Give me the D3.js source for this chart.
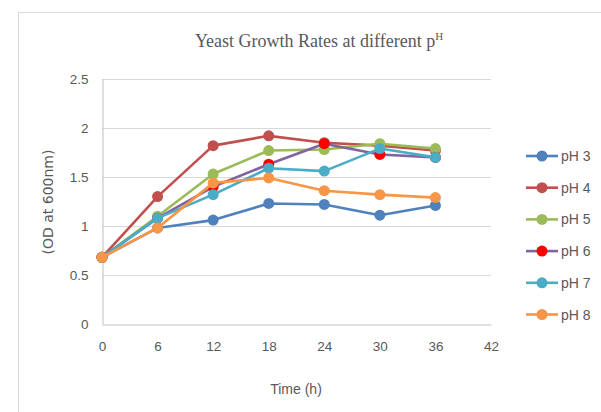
<!DOCTYPE html>
<html>
<head>
<meta charset="utf-8">
<script src="https://cdn.jsdelivr.net/npm/d3@7"></script>
<style>
  html, body { margin: 0; padding: 0; background: #fff; }
  svg { display: block; }
</style>
</head>
<body>
<svg id="chart" width="601" height="412"></svg>
<script>
// Sampling times (hours) and optical density readings per pH
const hours = [0, 6, 12, 18, 24, 30, 36];
const seriesNames = ["pH 3", "pH 4", "pH 5", "pH 6", "pH 7", "pH 8"];
const pH3 = [0.68, 0.98, 1.06, 1.23, 1.22, 1.11, 1.21];
const pH4 = [0.68, 1.30, 1.82, 1.92, 1.85, 1.82, 1.77];
const pH5 = [0.68, 1.10, 1.53, 1.77, 1.78, 1.84, 1.79];
const pH6 = [0.68, 1.08, 1.40, 1.63, 1.84, 1.73, 1.70];
const pH7 = [0.68, 1.08, 1.32, 1.59, 1.56, 1.79, 1.70];
const pH8 = [0.68, 0.98, 1.44, 1.49, 1.36, 1.32, 1.29];
const xTicks = [0, 6, 12, 18, 24, 30, 36, 42];
const yTicks = [0, 0.5, 1, 1.5, 2, 2.5];

const lineColors = ["#4F81BD", "#C0504D", "#9BBB59", "#8064A2", "#4BACC6", "#F79646"];
const markerColors = ["#4F81BD", "#C0504D", "#9BBB59", "#FF0000", "#4BACC6", "#F79646"];
const values = [pH3, pH4, pH5, pH6, pH7, pH8];

const svg = d3.select("#chart");

// Chart border
svg.append("rect")
  .attr("x", 18.5).attr("y", 12.5)
  .attr("width", 640).attr("height", 440)
  .attr("fill", "#fff").attr("stroke", "#d9d9d9").attr("stroke-width", 1);

const x = d3.scaleLinear().domain([0, 42]).range([102, 491]);
const y = d3.scaleLinear().domain([0, 2.5]).range([324, 79]);

// Horizontal gridlines
svg.append("g").selectAll("line")
  .data(yTicks.filter(d => d > 0))
  .join("line")
  .attr("x1", x(0)).attr("x2", x(42))
  .attr("y1", d => Math.round(y(d)) + 0.5).attr("y2", d => Math.round(y(d)) + 0.5)
  .attr("stroke", "#d9d9d9").attr("stroke-width", 1);

// Axes
const xAxis = svg.append("g")
  .attr("transform", `translate(0,${Math.round(y(0)) + 0.5})`)
  .call(d3.axisBottom(x).tickValues(xTicks).tickSize(0).tickPadding(17));
const yAxis = svg.append("g")
  .attr("transform", `translate(${Math.round(x(0)) + 0.5},0)`)
  .call(d3.axisLeft(y).tickValues(yTicks).tickSize(0).tickPadding(14)
        .tickFormat(d3.format("")));

[xAxis, yAxis].forEach(g => {
  g.select(".domain").attr("stroke", "#bfbfbf").attr("stroke-width", 1);
  g.selectAll("text")
    .attr("fill", "#595959")
    .style("font-family", "'Liberation Sans Narrow', 'Liberation Sans', Arial, sans-serif")
    .style("font-size", "13.5px");
});

// Series lines and markers
const line = d3.line().x((d, i) => x(hours[i])).y(d => y(d));
values.forEach((vals, s) => {
  const g = svg.append("g");
  g.append("path")
    .attr("d", line(vals))
    .attr("fill", "none")
    .attr("stroke", lineColors[s])
    .attr("stroke-width", 2.6)
    .attr("stroke-linejoin", "round");
  g.selectAll("circle")
    .data(vals)
    .join("circle")
    .attr("cx", (d, i) => x(hours[i]))
    .attr("cy", d => y(d))
    .attr("r", 5.5)
    .attr("fill", markerColors[s]);
});

// Title
const title = svg.append("text")
  .attr("x", 319).attr("y", 47)
  .attr("text-anchor", "middle")
  .attr("fill", "#595959")
  .style("font-family", "'Liberation Serif', 'Times New Roman', serif")
  .style("font-size", "18px");
title.append("tspan").text("Yeast Growth Rates at different p");
title.append("tspan").attr("dy", -7).style("font-size", "11px").text("H");

// Axis titles
svg.append("text")
  .attr("x", 296).attr("y", 394)
  .attr("text-anchor", "middle")
  .attr("fill", "#595959")
  .style("font-family", "'Liberation Sans Narrow', 'Liberation Sans', Arial, sans-serif")
  .style("font-size", "14px")
  .text("Time (h)");

svg.append("text")
  .attr("transform", "translate(53,202) rotate(-90)")
  .attr("text-anchor", "middle")
  .attr("fill", "#595959")
  .style("font-family", "'DejaVu Sans', Verdana, sans-serif")
  .style("font-size", "14px")
  .text("(OD at 600nm)");

// Legend
const legend = svg.append("g");
seriesNames.forEach((name, s) => {
  const ly = 156 + s * 31.7;
  legend.append("line")
    .attr("x1", 526).attr("x2", 558)
    .attr("y1", ly).attr("y2", ly)
    .attr("stroke", lineColors[s]).attr("stroke-width", 2.6);
  legend.append("circle")
    .attr("cx", 542).attr("cy", ly).attr("r", 5.5)
    .attr("fill", markerColors[s]);
  legend.append("text")
    .attr("x", 561).attr("y", ly + 5)
    .attr("fill", "#595959")
    .style("font-family", "'Liberation Sans Narrow', 'Liberation Sans', Arial, sans-serif")
    .style("font-size", "14px")
    .text(name);
});
</script>
</body>
</html>
